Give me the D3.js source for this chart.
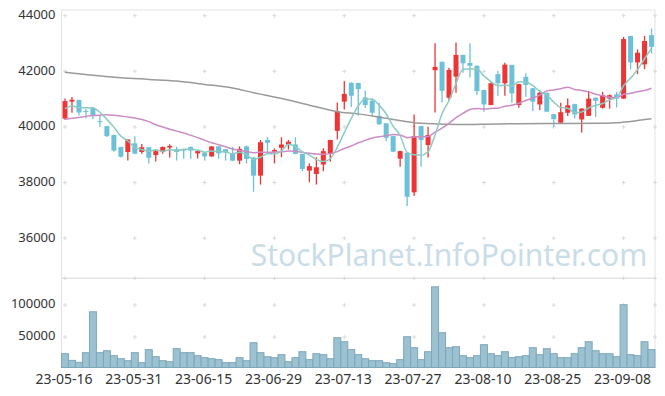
<!DOCTYPE html>
<html>
<head>
<meta charset="utf-8">
<script src="https://cdn.jsdelivr.net/npm/d3@7"></script>
<style>
  body { margin: 0; background: #fff; }
  text { font-family: "Noto Sans", sans-serif; }
</style>
</head>
<body>
<div id="chart"></div>
<script>
// trading days shown (yy-mm-dd)
const dates = [
  '23-05-16','23-05-17','23-05-18','23-05-19','23-05-22','23-05-23','23-05-24','23-05-25','23-05-26','23-05-30',
  '23-05-31','23-06-01','23-06-02','23-06-05','23-06-07','23-06-08','23-06-09','23-06-12','23-06-13','23-06-14',
  '23-06-15','23-06-16','23-06-19','23-06-20','23-06-21','23-06-22','23-06-23','23-06-26','23-06-27','23-06-28',
  '23-06-29','23-06-30','23-07-03','23-07-04','23-07-05','23-07-06','23-07-07','23-07-10','23-07-11','23-07-12',
  '23-07-13','23-07-14','23-07-17','23-07-18','23-07-19','23-07-20','23-07-21','23-07-24','23-07-25','23-07-26',
  '23-07-27','23-07-28','23-07-31','23-08-01','23-08-02','23-08-03','23-08-04','23-08-07','23-08-08','23-08-09',
  '23-08-10','23-08-11','23-08-14','23-08-16','23-08-17','23-08-18','23-08-21','23-08-22','23-08-23','23-08-24',
  '23-08-25','23-08-28','23-08-29','23-08-30','23-08-31','23-09-01','23-09-04','23-09-05','23-09-06','23-09-07',
  '23-09-08','23-09-11','23-09-12','23-09-13','23-09-14'
];

const opens = [
  40300,40910,40970,40570,40690,40210,40030,39710,39280,39100,
  39410,39100,39270,38990,39110,39260,39200,39190,39280,39050,
  39070,38940,39300,39200,39040,38790,39300,38900,38250,39530,
  39110,39250,39370,39370,39030,38430,38310,38650,39030,39860,
  40910,41590,41580,41060,40940,40400,40130,39670,38860,39070,
  37650,40030,39350,42040,42340,41050,41810,42590,42300,42200,
  41330,40790,41900,41570,42230,40790,41800,41390,40810,41230,
  40460,40150,40510,40820,40270,40400,41050,40690,41020,41170,
  41020,43270,42320,42250,43300
];
const highs = [
  41020,41080,40980,40660,40720,40430,40040,39730,39290,39560,
  39670,39390,39280,39190,39300,39380,39290,39220,39300,39150,
  39080,39310,39310,39210,39280,39300,39330,38930,39530,39630,
  39230,39630,39530,39630,39040,38690,38910,39230,39540,40880,
  41650,41600,41590,41310,41030,40870,40140,39680,39140,39080,
  40450,40040,40010,43010,42350,42130,43040,42600,43010,42210,
  41340,41600,42020,42310,42240,41550,41930,41400,41330,41240,
  40470,40870,41020,40830,40670,41300,41060,41260,41170,41260,
  43240,43280,42790,43270,43540
];
const lows = [
  40260,40510,40410,40310,40280,40010,39640,39110,38900,38790,
  39020,39040,38690,38760,39040,38900,38790,38860,38860,38870,
  38790,38930,38860,38790,38770,38660,38690,37670,37930,39110,
  38690,38910,39190,39020,38410,38010,37930,38410,38750,39550,
  40630,40720,40400,40680,40390,40070,39490,39100,38570,37160,
  37520,38570,38900,40520,40880,40940,41230,41950,41780,41150,
  40550,40780,41120,41120,40870,40690,41090,40570,40610,40540,
  40000,40140,40390,40300,39800,40390,40360,40660,40660,40700,
  41010,42070,41900,42080,42640
];
const closes = [
  40930,40980,40520,40540,40430,40180,39670,39150,38930,39550,
  39040,39270,38890,39130,39280,39320,39100,39150,39150,39130,
  38940,39300,39050,39090,38790,39210,38850,38250,39450,39430,
  39170,39370,39470,39030,38490,38590,38550,39130,39530,40570,
  41190,41120,41360,40790,40510,40100,39610,39110,39130,37490,
  39670,39530,39710,42160,41300,42050,42590,42290,42200,41290,
  40810,41570,41570,42240,41210,41540,41510,40910,41230,40550,
  40280,40530,40780,40450,40660,41020,40940,41140,41140,41020,
  43160,42320,42670,43090,42880
];
const volumes = [
  23900,13500,10400,25500,89400,25500,28600,20800,16100,13000,
  25500,9900,30200,19200,13000,11400,31700,25500,25500,20800,
  17700,16100,14600,9900,9900,17700,13000,41100,25500,19200,
  17700,22400,11400,17700,27000,14600,23900,22400,16100,48900,
  42600,30200,22400,16100,13000,13000,9900,8300,14600,50400,
  33300,14600,27000,128400,56700,33300,34800,20800,17700,20800,
  38000,23900,20800,27000,17700,19200,20800,33300,22400,31700,
  23900,17700,17700,23900,33300,42600,28600,23900,23900,19200,
  100400,22400,20800,42600,30200
];

// moving-average values read off the chart where the visible closes are not enough
const ma5Lead = [40660, 40750, 40700, 40690];
const ma20Lead = [40280,40310,40340,40380,40410,40425,40435,40420,40390,40360,
                  40320,40270,40190,40080,40000,39920,39850,39780,39700];
// long average (grey), read at these candle positions
const maLongPoints = [[0,41970],[4,41860],[8,41770],[12,41710],[16,41650],[20,41530],
  [24,41400],[27,41230],[32,40970],[37,40660],[39,40550],[42,40470],[46,40310],
  [51,40130],[56,40090],[62,40110],[69,40125],[76,40130],[79,40150],[81,40200],[84,40294]];

const priceTicks = [36000, 38000, 40000, 42000, 44000];
const volumeTicks = [50000, 100000];

let width = 665, height = 396;
let left = 61.5, right = 655;
let priceTop = 10, priceBottom = 278.3, volBottom = 367.5;

let svg = d3.select('#chart').append('svg')
  .attr('width', width)
  .attr('height', height);

let x = d3.scaleBand().domain(d3.range(dates.length)).range([left, right]);
let cx = i => x(i) + x.bandwidth() / 2;
let yPrice = d3.scaleLinear().domain([36000, 44000]).range([238.2, 15.7]);
let yVol = d3.scaleLinear().domain([0, 100000]).range([369, 305]);

// watermark
svg.append('text')
  .attr('x', 449).attr('y', 266)
  .attr('text-anchor', 'middle')
  .style('font-size', '30px')
  .attr('fill', '#c9dde8')
  .text('StockPlanet.InfoPointer.com');

// frame
const frame = '#e3e3e3';
svg.append('rect').attr('x', left).attr('y', priceTop)
  .attr('width', right - left).attr('height', volBottom - priceTop)
  .attr('fill', 'none').attr('stroke', frame);
svg.append('line').attr('x1', left).attr('x2', right)
  .attr('y1', priceBottom).attr('y2', priceBottom).attr('stroke', frame).attr('stroke-width', 1.5);

// small cross grid marks
const tickIdx = d3.range(0, dates.length, 10);
let crossX = tickIdx.map(cx).concat([right]);
let crossY = priceTicks.map(yPrice).concat([priceBottom], volumeTicks.map(yVol));
let grid = svg.append('g').attr('stroke', '#d9d9d9').attr('stroke-width', 1);
crossX.forEach(gx => crossY.forEach(gy => {
  grid.append('line').attr('x1', gx - 2).attr('x2', gx + 2).attr('y1', gy).attr('y2', gy);
  grid.append('line').attr('x1', gx).attr('x2', gx).attr('y1', gy - 2).attr('y2', gy + 2);
}));

// y labels
svg.append('g').selectAll('text').data(priceTicks).enter().append('text')
  .attr('x', 55.5).attr('y', d => yPrice(d))
  .attr('text-anchor', 'end').attr('dominant-baseline', 'middle')
  .style('font-size', '13px').attr('fill', '#333')
  .text(d => d);
svg.append('g').selectAll('text').data(volumeTicks).enter().append('text')
  .attr('x', 55.5).attr('y', d => yVol(d))
  .attr('text-anchor', 'end').attr('dominant-baseline', 'middle')
  .style('font-size', '13px').attr('fill', '#333')
  .text(d => d);

// x labels
svg.append('g').selectAll('text').data(tickIdx).enter().append('text')
  .attr('x', d => cx(d) - 1).attr('y', 383.5)
  .attr('text-anchor', 'middle')
  .style('font-size', '14px').attr('fill', '#333')
  .text(d => dates[d]);

// volume bars
svg.append('g').selectAll('rect').data(volumes).enter().append('rect')
  .attr('x', (d, i) => x(i))
  .attr('y', d => yVol(d))
  .attr('width', x.bandwidth())
  .attr('height', d => volBottom - yVol(d))
  .attr('fill', '#9cc1d1')
  .attr('stroke', '#7ca7bb')
  .attr('stroke-width', 1);

// candles
const upColor = '#ee3535', downColor = '#6cc1d9';
let candles = svg.append('g').selectAll('g').data(dates).enter().append('g');
candles.append('line')
  .attr('x1', (d, i) => cx(i)).attr('x2', (d, i) => cx(i))
  .attr('y1', (d, i) => yPrice(highs[i])).attr('y2', (d, i) => yPrice(lows[i]))
  .attr('stroke', (d, i) => closes[i] >= opens[i] ? upColor : downColor)
  .attr('stroke-width', 1.3);
candles.append('rect')
  .attr('x', (d, i) => cx(i) - 2.5)
  .attr('width', 5)
  .attr('y', (d, i) => yPrice(Math.max(opens[i], closes[i])))
  .attr('height', (d, i) => Math.max(1, Math.abs(yPrice(opens[i]) - yPrice(closes[i]))))
  .attr('fill', (d, i) => closes[i] >= opens[i] ? upColor : downColor);

// moving averages
const movingAvg = (n, lead) => closes.map((c, i) =>
  i < n - 1 ? lead[i] : d3.mean(closes.slice(i - n + 1, i + 1)));
let ma5 = movingAvg(5, ma5Lead);
let ma20 = movingAvg(20, ma20Lead);

let maLine = d3.line()
  .x((d, i) => cx(i))
  .y(d => yPrice(d))
  .curve(d3.curveMonotoneX);

svg.append('path').datum(maLongPoints)
  .attr('d', d3.line().x(d => cx(d[0])).y(d => yPrice(d[1])).curve(d3.curveMonotoneX))
  .attr('fill', 'none').attr('stroke', '#9a9a9a').attr('stroke-width', 1.5);
svg.append('path').datum(ma20)
  .attr('d', maLine)
  .attr('fill', 'none').attr('stroke', '#cc8cc6').attr('stroke-width', 1.5);
svg.append('path').datum(ma5)
  .attr('d', maLine)
  .attr('fill', 'none').attr('stroke', '#8ccbc2').attr('stroke-width', 1.5);
</script>
</body>
</html>
